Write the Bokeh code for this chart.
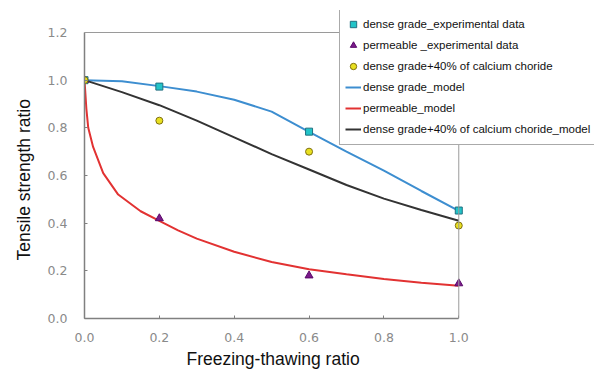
from bokeh.plotting import figure
from bokeh.models import Range1d, FixedTicker, Legend, Span, Title
from bokeh.embed import file_html
from bokeh.resources import INLINE

# experimental data
exp_x = [0.0, 0.2, 0.6, 1.0]
dense_exp = [1.0, 0.973, 0.784, 0.453]
perm_exp = [1.0, 0.42, 0.18, 0.147]
calc_exp = [1.0, 0.83, 0.70, 0.39]

# model curves
dense_model_x = [0.0, 0.1, 0.2, 0.3, 0.4, 0.5, 0.6, 0.7, 0.8, 0.9, 1.0]
dense_model_y = [1.0, 0.995, 0.975, 0.952, 0.918, 0.868, 0.783, 0.70, 0.62, 0.535, 0.452]

perm_model_x = [0.0, 0.005, 0.01, 0.023, 0.05, 0.09, 0.15, 0.2, 0.25, 0.3, 0.4, 0.5, 0.6, 0.7, 0.8, 0.9, 1.0]
perm_model_y = [1.0, 0.88, 0.80, 0.72, 0.61, 0.52, 0.45, 0.41, 0.37, 0.335, 0.28, 0.237, 0.207, 0.186, 0.166, 0.15, 0.137]

calc_model_x = [0.0, 0.1, 0.2, 0.3, 0.4, 0.5, 0.6, 0.7, 0.8, 0.9, 1.0]
calc_model_y = [1.0, 0.95, 0.895, 0.83, 0.76, 0.69, 0.625, 0.56, 0.503, 0.455, 0.41]

x_ticks = [0.0, 0.2, 0.4, 0.6, 0.8, 1.0]
y_ticks = [0.0, 0.2, 0.4, 0.6, 0.8, 1.0, 1.2]
x_max, y_max = 1.0, 1.2
x_label = "Freezing-thawing ratio"
y_label = "Tensile strength ratio"

# frame spans the whole right/top area so the legend can sit over the box edge
p = figure(width=594, height=375, output_backend="svg", toolbar_location=None,
           x_range=Range1d(0, 511 / 375), y_range=Range1d(0, 308 / (286 / 1.2)),
           min_border_left=83, min_border_right=0, min_border_top=10, min_border_bottom=57)
p.xgrid.visible = False
p.ygrid.visible = False
p.background_fill_color = "white"
p.border_fill_color = "white"
p.outline_line_color = None

for ax in (p.xaxis[0], p.yaxis[0]):
    ax.axis_line_color = "#808080"
    ax.axis_line_width = 1.5
    ax.major_tick_in = 3
    ax.major_tick_out = 0
    ax.major_tick_line_color = "#808080"
    ax.minor_tick_line_color = None
    ax.major_label_text_font = "DejaVu Sans"
    ax.major_label_text_font_size = "12.5px"
    ax.major_label_text_color = "#8a8a8a"

p.xaxis.bounds = (0, x_max)
p.yaxis.bounds = (0, y_max)
p.xaxis.ticker = FixedTicker(ticks=x_ticks)
p.yaxis.ticker = FixedTicker(ticks=y_ticks)
p.xaxis.major_label_overrides = {t: f"{t:.1f}" for t in x_ticks}
p.yaxis.major_label_overrides = {t: f"{t:.1f}" for t in y_ticks}
p.xaxis.major_label_standoff = 14
p.yaxis.major_label_standoff = 17

# axis titles, centred on the visible box (x 0..1, y 0..1.2) rather than the wider frame
p.add_layout(Title(text=x_label, align="left", offset=102, standoff=8, vertical_align="top",
                   text_font="Liberation Sans", text_font_size="17.5px",
                   text_font_style="normal", text_color="#111111"), "below")
p.add_layout(Title(text=y_label, align="left", offset=58, standoff=22, vertical_align="bottom",
                   text_font="Liberation Sans", text_font_size="17.5px",
                   text_font_style="normal", text_color="#111111"), "left")

# box edges at top (y=1.2) and right (x=1.0)
p.add_layout(Span(location=y_max, dimension="width", line_color="#9a9a9a", line_width=1))
p.add_layout(Span(location=x_max, dimension="height", line_color="#9a9a9a", line_width=1))

r_dm = p.line(dense_model_x, dense_model_y, line_color="#3d8ed0", line_width=2)
r_pm = p.line(perm_model_x, perm_model_y, line_color="#e23232", line_width=2)
r_cm = p.line(calc_model_x, calc_model_y, line_color="#333333", line_width=2)

r_de = p.scatter(exp_x, dense_exp, marker="square", size=7, fill_color="#22c4c8", line_color="#207080", line_width=1)
r_pe = p.scatter(exp_x, perm_exp, marker="triangle", size=8, fill_color="#7a1a8a", line_color="#5a0a6a", line_width=1)
r_ce = p.scatter(exp_x, calc_exp, marker="circle", size=7, fill_color="#e8e020", line_color="#807010", line_width=1)

legend = Legend(items=[
    ("dense grade_experimental data", [r_de]),
    ("permeable _experimental data", [r_pe]),
    ("dense grade+40% of calcium choride", [r_ce]),
    ("dense grade_model", [r_dm]),
    ("permeable_model", [r_pm]),
    ("dense grade+40% of calcium choride_model", [r_cm]),
], location=(255, 173))
legend.label_text_font = "Liberation Sans"
legend.label_text_font_size = "11.5px"
legend.label_text_color = "#111111"
legend.glyph_width = 16
legend.glyph_height = 20
legend.label_height = 20
legend.label_standoff = 2
legend.spacing = 1
legend.padding = 5
legend.margin = 0
legend.border_line_color = "#555555"
legend.border_line_width = 1
legend.background_fill_color = "white"
legend.background_fill_alpha = 1
p.add_layout(legend, "center")

open("out.html", "w").write(file_html(p, INLINE))
